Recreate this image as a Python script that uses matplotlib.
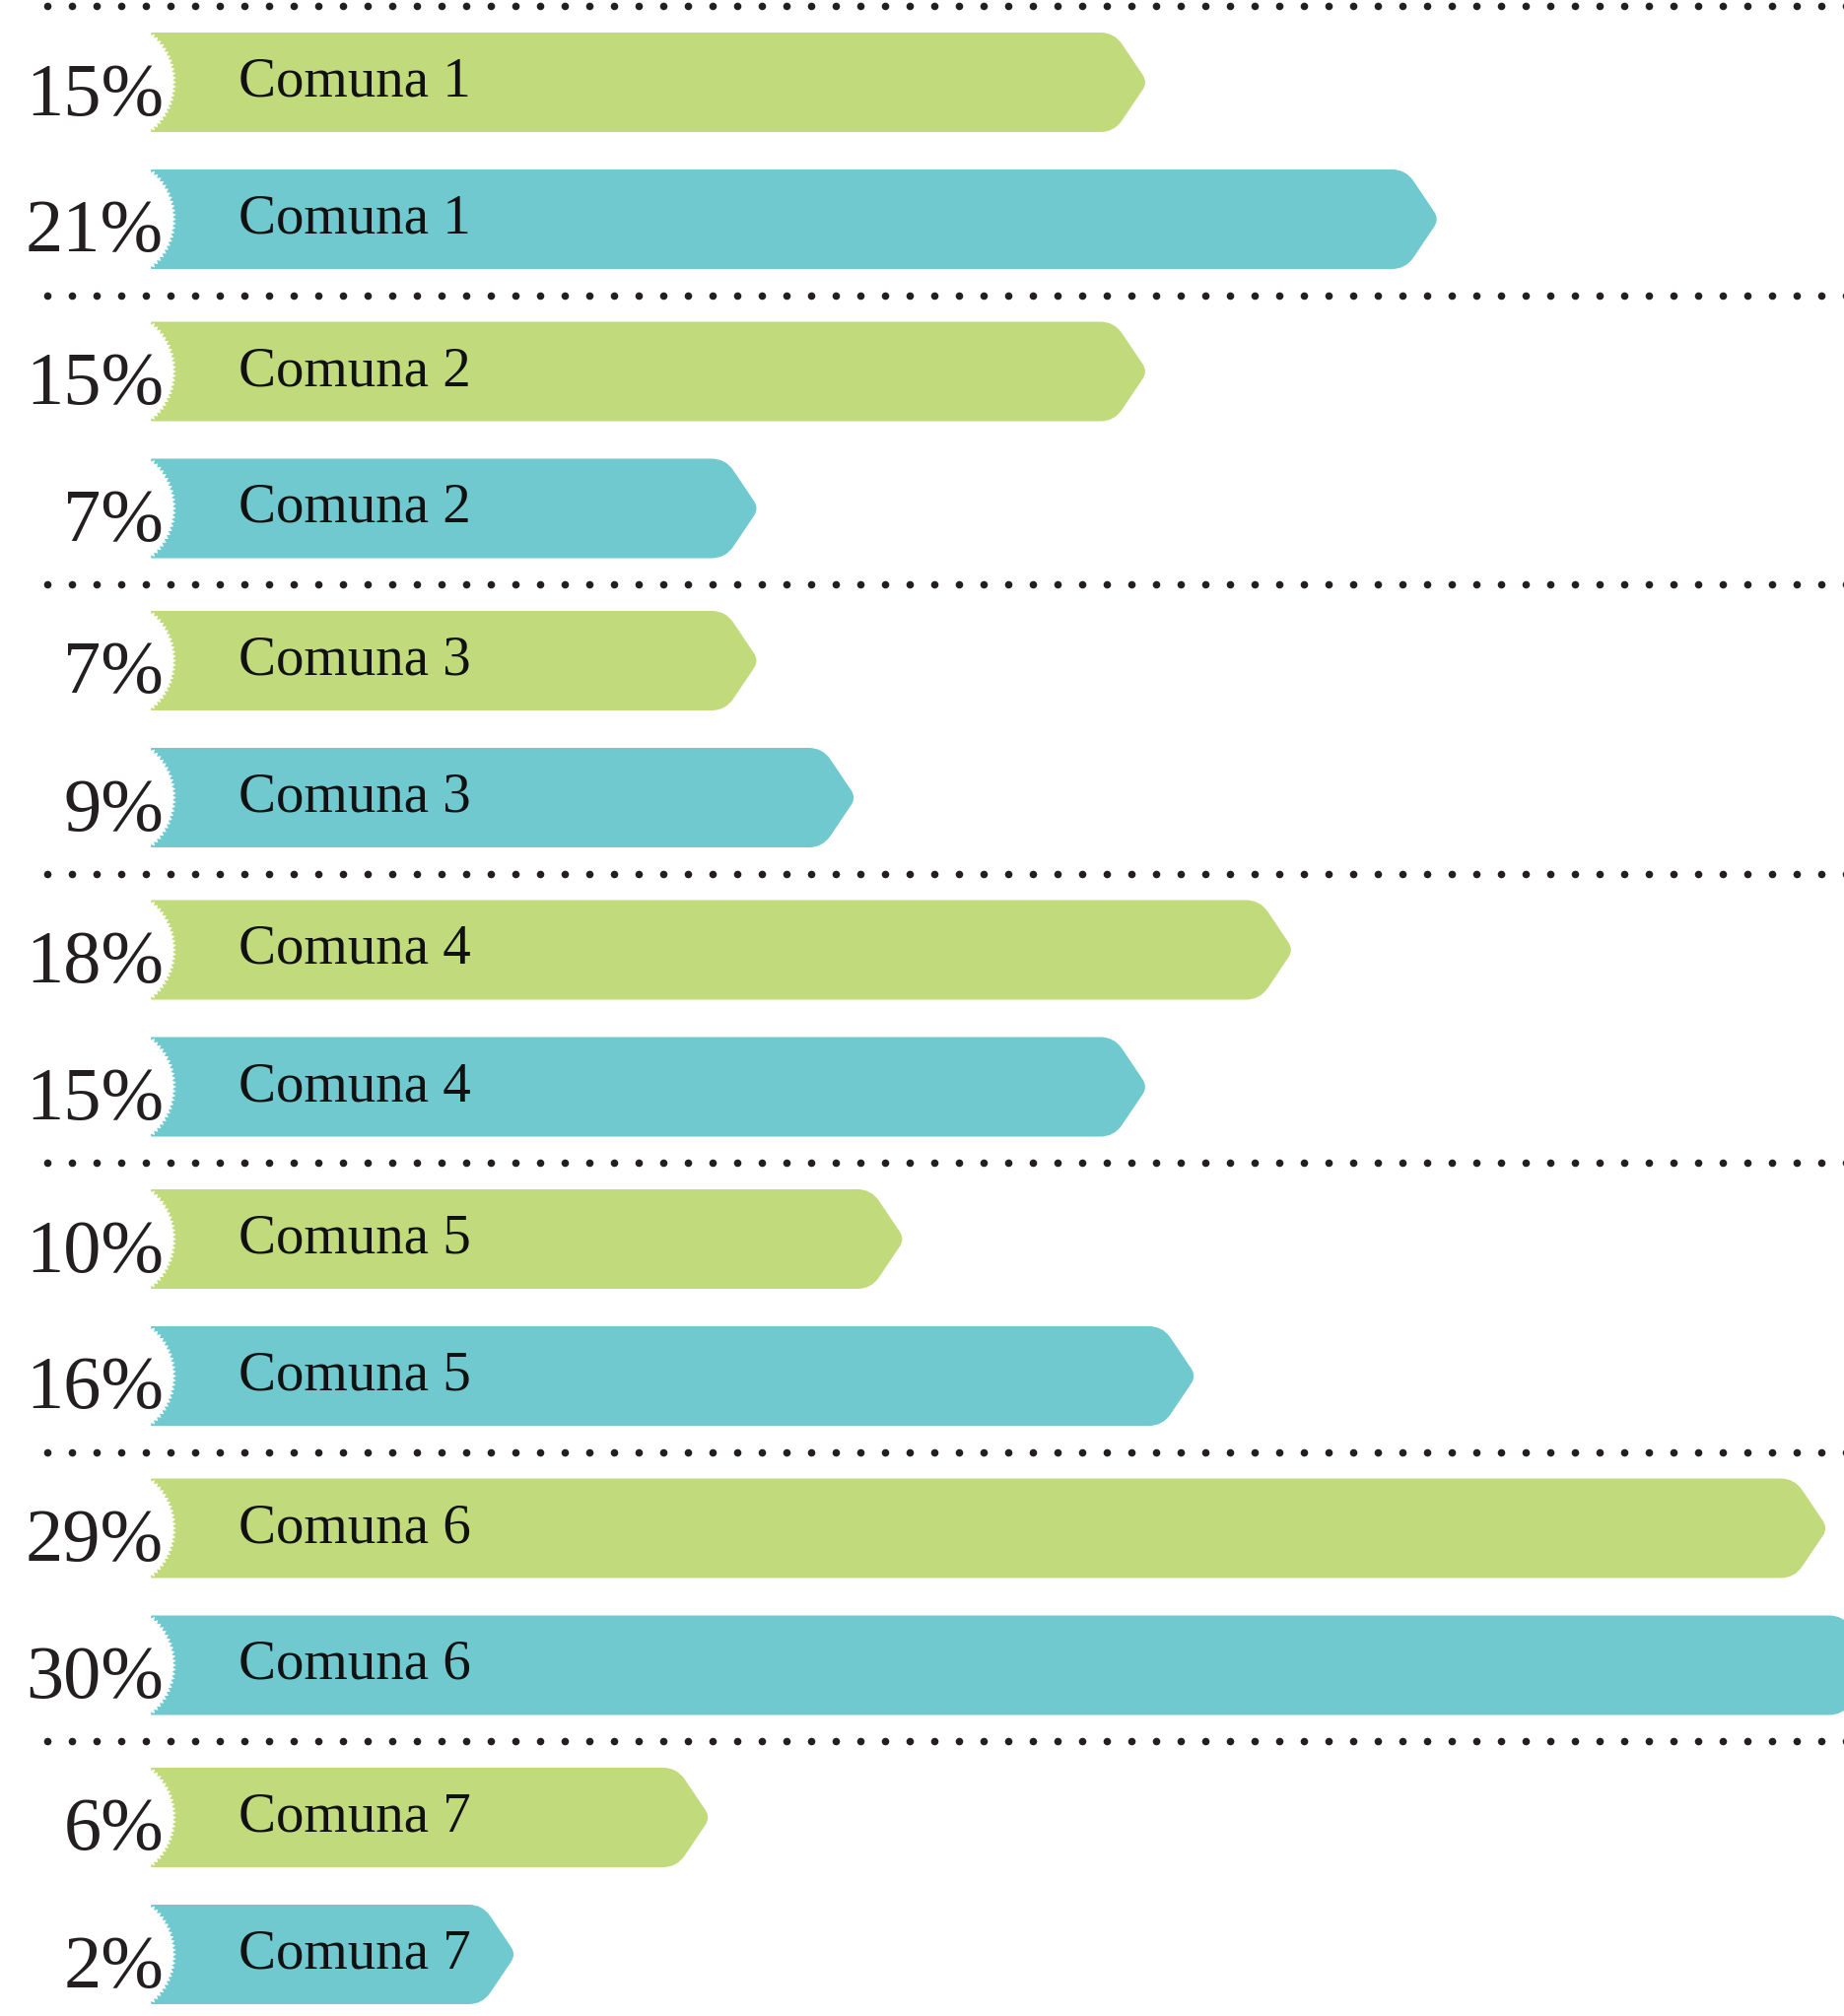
import numpy as np
import matplotlib.pyplot as plt
from matplotlib.path import Path
from matplotlib.patches import PathPatch, Polygon
from matplotlib.transforms import IdentityTransform

# datos
comunas = ['Comuna 1', 'Comuna 2', 'Comuna 3', 'Comuna 4', 'Comuna 5', 'Comuna 6', 'Comuna 7']
verde = [15, 15, 7, 18, 10, 29, 6]
azul = [21, 7, 9, 15, 16, 30, 2]

VERDE = '#c1db7c'
AZUL = '#6fc9ce'
TINTA = '#231f20'

W, H = 1871, 2046
X0 = 425.0      # pixel donde cae el 0 %
PXU = 49.3      # pixeles por punto porcentual
GRUPO = 293.5   # separacion entre comunas (px)
PAR = 139.0     # separacion entre barra verde y azul (px)
Y0 = 83.5       # centro de la primera barra
ALTO = 101.0
IZQ = 153.0     # borde izquierdo de las barras (px)

plt.rcParams['font.family'] = ['Liberation Serif', 'DejaVu Serif']

fig = plt.figure(figsize=(W / 100, H / 100), dpi=100, facecolor='white')
ax = fig.add_axes([0, 0, 1, 1])
ax.set_xlim(-X0 / PXU, (W - X0) / PXU)
ax.set_ylim(H, 0)
ax.axis('off')


def px2x(p):
    return (p - X0) / PXU


def redondear(pts, radios):
    verts, codes = [], []
    n = len(pts)
    for i in range(n):
        p = np.array(pts[i])
        r = radios[i]
        if r == 0:
            verts.append(p)
            codes.append(Path.LINETO)
            continue
        a = np.array(pts[i - 1]) - p
        b = np.array(pts[(i + 1) % n]) - p
        pa = p + a / np.linalg.norm(a) * r
        pb = p + b / np.linalg.norm(b) * r
        verts += [pa, p, pb]
        codes += [Path.LINETO, Path.CURVE3, Path.CURVE3]
    codes[0] = Path.MOVETO
    verts.append(verts[0])
    codes.append(Path.CLOSEPOLY)
    return Path(verts, codes)


def barra(v, yc, color):
    # convertir a coordenadas de pantalla (y hacia arriba)
    xe, yd = ax.transData.transform((v, yc))
    xl = ax.transData.transform((px2x(IZQ), yc))[0]
    d = 34.0
    yt, yb = yd + ALTO / 2, yd - ALTO / 2
    pts = [(xl, yb), (xl, yt), (xe - d, yt), (xe, yd), (xe - d, yb)]
    path = redondear(pts, [0, 0, 14, 9, 14])
    ax.add_patch(PathPatch(path, facecolor=color, edgecolor='none',
                           transform=IdentityTransform(), zorder=2))
    # mordida blanca dentada
    cx = ax.transData.transform((px2x(113), yc))[0]
    t = np.linspace(0, 2 * np.pi, 181)[:-1]
    rr = 64 + np.where(np.arange(len(t)) % 2 == 0, 1.8, -1.8)
    circ = np.column_stack([cx + rr * np.cos(t), yd + rr * np.sin(t)])
    ax.add_patch(Polygon(circ, closed=True, facecolor='white', edgecolor='none',
                         transform=IdentityTransform(), zorder=3))


xs_puntos = px2x(np.arange(48, W + 10, 25.0))

for g, nombre in enumerate(comunas):
    ylinea = Y0 - (GRUPO - PAR) / 2 + g * GRUPO
    ax.scatter(xs_puntos, np.full(len(xs_puntos), ylinea), s=30, color=TINTA,
               linewidths=0, zorder=1)
    for k, (vals, color) in enumerate([(verde, VERDE), (azul, AZUL)]):
        yc = Y0 + g * GRUPO + k * PAR
        v = vals[g]
        barra(v, yc, color)
        ax.text(px2x(166), yc + 33, f'{v}%', ha='right', va='baseline',
                fontsize=55, color=TINTA, zorder=4)
        ax.text(px2x(242), yc + 14, nombre, ha='left', va='baseline',
                fontsize=41, color='#111111', zorder=4)

fig.savefig('out.png', dpi=100, facecolor='white')
